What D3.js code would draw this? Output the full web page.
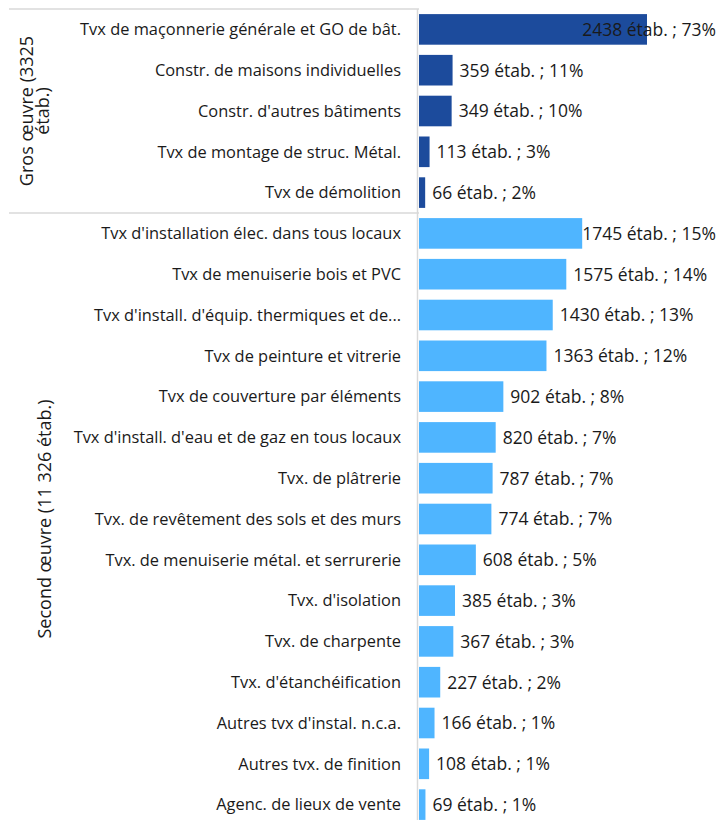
<!DOCTYPE html>
<html>
<head>
<meta charset="utf-8">
<script src="https://cdn.jsdelivr.net/npm/d3@7"></script>
<style>
  body { margin: 0; background: #fff; }
  svg text { font-family: "Open Sans", sans-serif; fill: #1a1a1a; }
</style>
</head>
<body>
<svg id="chart" width="724" height="820"></svg>
<script>
// activity labels, top to bottom
const categories = [
    "Tvx de maçonnerie générale et GO de bât.",
    "Constr. de maisons individuelles",
    "Constr. d'autres bâtiments",
    "Tvx de montage de struc. Métal.",
    "Tvx de démolition",
    "Tvx d'installation élec. dans tous locaux",
    "Tvx de menuiserie bois et PVC",
    "Tvx d'install. d'équip. thermiques et de...",
    "Tvx de peinture et vitrerie",
    "Tvx de couverture par éléments",
    "Tvx d'install. d'eau et de gaz en tous locaux",
    "Tvx. de plâtrerie",
    "Tvx. de revêtement des sols et des murs",
    "Tvx. de menuiserie métal. et serrurerie",
    "Tvx. d'isolation",
    "Tvx. de charpente",
    "Tvx. d'étanchéification",
    "Autres tvx d'instal. n.c.a.",
    "Autres tvx. de finition",
    "Agenc. de lieux de vente"
];
// number of establishments
const counts = [2438, 359, 349, 113, 66,
    1745, 1575, 1430, 1363, 902, 820, 787, 774, 608, 385, 367, 227, 166, 108, 69];
// share inside the group (%)
const shares = [73, 11, 10, 3, 2,
    15, 14, 13, 12, 8, 7, 7, 7, 5, 3, 3, 2, 1, 1, 1];
// group of each row
const groupOf = ["gros", "gros", "gros", "gros", "gros",
    "second", "second", "second", "second", "second", "second", "second", "second",
    "second", "second", "second", "second", "second", "second", "second"];
const groupNames = ["gros", "second"];
const groupLabels = [["Gros  œuvre (3325", "étab.)"], ["Second œuvre (11 326 étab.)"]];

const colors = { gros: "#1c4b9c", second: "#4fb5ff" };

let svg = d3.select("#chart");
let rows = categories.map((c, i) => ({ name: c, count: counts[i], share: shares[i], group: groupOf[i] }));

let x0 = 419;
let x = d3.scaleLinear().domain([0, 2438]).range([x0, x0 + 228]);
let y = d3.scaleBand().domain(d3.range(rows.length)).range([9, 825]).paddingInner(0.25).paddingOuter(0.125);

let step = y.step();

// group frames
let grid = svg.append("g").attr("stroke", "#d9d9d9").attr("stroke-width", 1.5);
groupNames.forEach(function (g) {
    let idx = rows.map((r, i) => r.group == g ? i : -1).filter(i => i >= 0);
    let top = 9 + idx[0] * step;
    grid.append("line").attr("x1", 9).attr("x2", x0).attr("y1", top).attr("y2", top);
});
grid.append("line").attr("x1", x0 - 1.5).attr("x2", x0 - 1.5).attr("y1", 9).attr("y2", 825);

// bars
svg.append("g").selectAll("rect")
    .data(rows)
    .join("rect")
    .attr("x", x0)
    .attr("y", (d, i) => y(i))
    .attr("width", d => x(d.count) - x0)
    .attr("height", y.bandwidth())
    .attr("fill", d => colors[d.group]);

// category labels
svg.append("g").selectAll("text")
    .data(rows)
    .join("text")
    .attr("x", 401)
    .attr("y", (d, i) => y(i) + y.bandwidth() / 2)
    .attr("dy", "0.35em")
    .attr("text-anchor", "end")
    .attr("font-size", 16.4)
    .text(d => d.name);

// value labels, pushed back inside when they would overflow
let vals = svg.append("g").selectAll("text")
    .data(rows)
    .join("text")
    .attr("y", (d, i) => y(i) + y.bandwidth() / 2)
    .attr("dy", "0.36em")
    .attr("font-size", 17.5)
    .text(d => d.count + " étab. ; " + d.share + "%");
vals.each(function (d) {
    let w = this.getComputedTextLength();
    let px = x(d.count) + 7;
    if (px + w > 716) px = 716 - w;
    d3.select(this).attr("x", px);
});

// group titles, rotated
groupNames.forEach(function (g, gi) {
    let idx = rows.map((r, i) => r.group == g ? i : -1).filter(i => i >= 0);
    let top = 9 + idx[0] * step;
    let bottom = 9 + (idx[idx.length - 1] + 1) * step;
    let lines = groupLabels[gi];
    let cx = lines.length == 1 ? 45 : 27;
    let t = svg.append("text")
        .attr("transform", "translate(" + cx + "," + (top + bottom) / 2 + ") rotate(-90)")
        .attr("text-anchor", "middle")
        .attr("font-size", 18);
    lines.forEach(function (l, li) {
        t.append("tspan").attr("x", 0).attr("y", li * 16).attr("dy", "0.35em").text(l);
    });
});
</script>
</body>
</html>
